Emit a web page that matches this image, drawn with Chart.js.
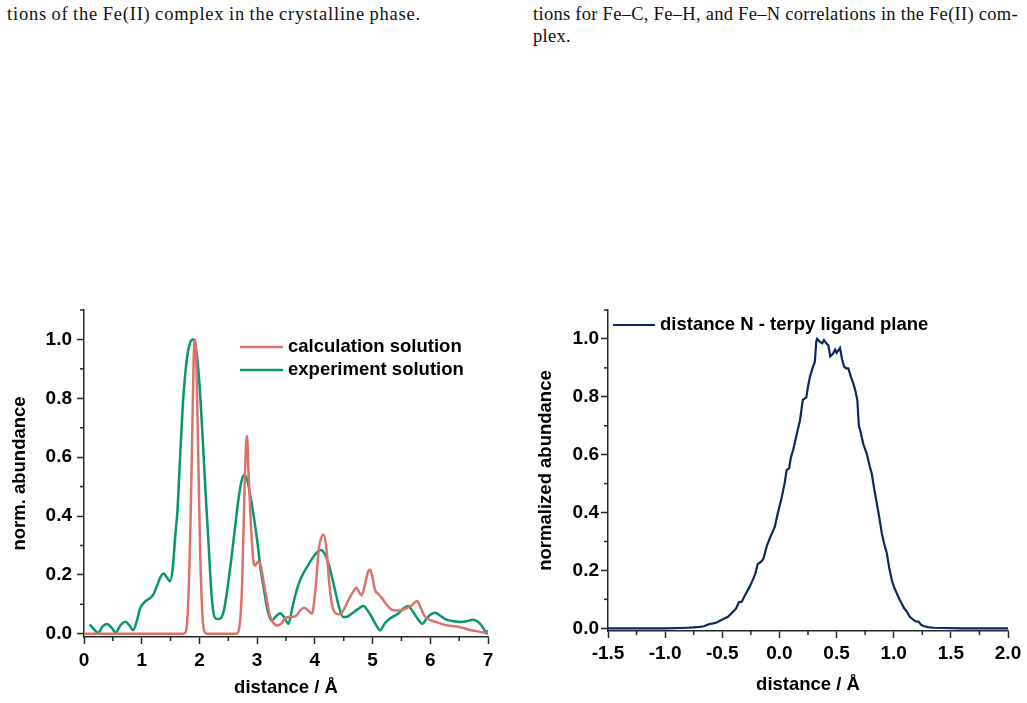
<!DOCTYPE html>
<html>
<head>
<meta charset="utf-8">
<title>Fe(II) complex distributions</title>
<script src="https://cdn.jsdelivr.net/npm/chart.js@4.4.1/dist/chart.umd.min.js"></script>
<style>
  body { margin: 0; background: #fff; width: 1027px; height: 703px; overflow: hidden; position: relative; }
  .cap { position: absolute; font-family: "Liberation Serif", "Times New Roman", serif; font-size: 18.5px;
         line-height: 22px; color: #111; letter-spacing: 0.3px; white-space: nowrap; }
  canvas { position: absolute; }
</style>
</head>
<body>
<div class="cap" style="left:7px;top:3px;letter-spacing:0.8px"><span data-fit="414">tions of the Fe(II) complex in the crystalline phase.</span></div>
<div class="cap" style="left:533px;top:3px"><span data-fit="485">tions for Fe–C, Fe–H, and Fe–N correlations in the Fe(II) com-</span></div>
<div class="cap" style="left:533px;top:25px"><span>plex.</span></div>

<canvas id="rdfChart" width="510" height="403" style="left:0;top:300px"></canvas>
<canvas id="planeChart" width="507" height="403" style="left:520px;top:300px"></canvas>

<script>
// left panel: calculated vs. experimental distance distribution
const calcDistance = [0, 1.72, 1.76, 1.80, 1.84, 1.87, 1.90, 1.925, 1.95, 1.98, 2.01, 2.05, 2.09, 2.13,
  2.64, 2.69, 2.74, 2.78, 2.81, 2.825, 2.85, 2.89, 2.94, 2.97, 3.01, 3.05, 3.10, 3.15, 3.21, 3.27,
  3.35, 3.42, 3.50, 3.60, 3.68, 3.75, 3.81, 3.88, 3.95, 4.01, 4.07, 4.12, 4.15, 4.20, 4.25, 4.30,
  4.36, 4.44, 4.52, 4.61, 4.67, 4.72, 4.77, 4.81, 4.86, 4.92, 4.955, 5.00, 5.04, 5.10, 5.16, 5.24,
  5.33, 5.42, 5.50, 5.60, 5.68, 5.77, 5.83, 5.90, 5.96, 6.10, 6.22, 6.34, 6.50, 6.60, 6.70, 6.80,
  6.90, 7.00];
const calcAbundance = [0, 0, 0.005, 0.08, 0.33, 0.62, 0.93, 1.0, 0.90, 0.60, 0.30, 0.07, 0.005, 0,
  0, 0.02, 0.17, 0.48, 0.65, 0.672, 0.55, 0.38, 0.24, 0.232, 0.245, 0.24, 0.19, 0.136, 0.07, 0.04,
  0.028, 0.035, 0.055, 0.057, 0.062, 0.08, 0.088, 0.08, 0.068, 0.15, 0.29, 0.33, 0.337, 0.29, 0.17, 0.095,
  0.07, 0.066, 0.09, 0.125, 0.145, 0.157, 0.14, 0.131, 0.16, 0.21, 0.218, 0.19, 0.15, 0.135, 0.122, 0.10,
  0.082, 0.079, 0.08, 0.088, 0.097, 0.111, 0.09, 0.06, 0.05, 0.04, 0.032, 0.027, 0.023, 0.018, 0.012, 0.009,
  0.005, 0.003];

const exptDistance = [0.10, 0.17, 0.245, 0.32, 0.40, 0.48, 0.55, 0.63, 0.715, 0.79, 0.85, 0.91, 0.97,
  1.05, 1.12, 1.19, 1.26, 1.33, 1.38, 1.44, 1.49, 1.54, 1.58, 1.62, 1.67, 1.72, 1.78, 1.84, 1.89,
  1.94, 2.00, 2.06, 2.115, 2.16, 2.20, 2.24, 2.28, 2.33, 2.38, 2.43, 2.49, 2.55, 2.61, 2.674, 2.73,
  2.777, 2.83, 2.89, 2.94, 3.007, 3.06, 3.12, 3.18, 3.25, 3.33, 3.40, 3.47, 3.543, 3.60, 3.66, 3.73,
  3.80, 3.89, 3.975, 4.10, 4.17, 4.235, 4.30, 4.35, 4.42, 4.49, 4.56, 4.64, 4.74, 4.84, 4.91, 4.985,
  5.06, 5.13, 5.21, 5.30, 5.37, 5.445, 5.53, 5.617, 5.69, 5.76, 5.866, 5.93, 5.99, 6.08, 6.18, 6.28,
  6.40, 6.54, 6.64, 6.74, 6.82, 6.885, 6.94, 6.98, 7.00];
const exptAbundance = [0.032, 0.016, 0.003, 0.024, 0.033, 0.020, 0.004, 0.028, 0.041, 0.028, 0.012, 0.04, 0.085,
  0.108, 0.118, 0.13, 0.16, 0.195, 0.205, 0.19, 0.178, 0.227, 0.33, 0.42, 0.62, 0.80, 0.93, 0.99, 1.0,
  0.97, 0.85, 0.65, 0.45, 0.30, 0.16, 0.075, 0.052, 0.05, 0.055, 0.085, 0.16, 0.25, 0.35, 0.454, 0.52,
  0.539, 0.52, 0.46, 0.40, 0.307, 0.22, 0.148, 0.08, 0.045, 0.06, 0.07, 0.055, 0.034, 0.08, 0.13, 0.175,
  0.205, 0.235, 0.262, 0.285, 0.272, 0.239, 0.19, 0.148, 0.09, 0.057, 0.058, 0.069, 0.083, 0.094, 0.08, 0.057,
  0.03, 0.012, 0.035, 0.052, 0.06, 0.069, 0.085, 0.094, 0.078, 0.057, 0.034, 0.05, 0.063, 0.071, 0.06, 0.048,
  0.043, 0.04, 0.043, 0.048, 0.042, 0.029, 0.012, 0.0, 0.012];

// right panel: N distance to the terpy ligand plane
const planeDistance = [-1.5, -1.2, -1.0, -0.87, -0.80, -0.755, -0.70, -0.66, -0.62, -0.58, -0.55, -0.52,
  -0.49, -0.45, -0.42, -0.38, -0.355, -0.33, -0.30, -0.26, -0.23, -0.21, -0.19, -0.16, -0.14, -0.11,
  -0.08, -0.04, -0.015, 0.015, 0.045, 0.063, 0.085, 0.10, 0.12, 0.15, 0.18, 0.205, 0.215, 0.235, 0.25,
  0.267, 0.29, 0.31, 0.322, 0.33, 0.355, 0.375, 0.39, 0.41, 0.428, 0.445, 0.465, 0.487, 0.50, 0.515,
  0.53, 0.548, 0.566, 0.585, 0.603, 0.625, 0.647, 0.665, 0.682, 0.695, 0.706, 0.735, 0.764, 0.79, 0.808,
  0.83, 0.852, 0.875, 0.896, 0.915, 0.94, 0.96, 0.983, 1.005, 1.027, 1.05, 1.07, 1.09, 1.115, 1.14,
  1.173, 1.195, 1.217, 1.24, 1.26, 1.30, 1.35, 1.45, 1.6, 2.0];
const planeAbundance = [0, 0, 0, 0.001, 0.002, 0.003, 0.005, 0.007, 0.014, 0.017, 0.02, 0.026,
  0.032, 0.04, 0.052, 0.068, 0.09, 0.092, 0.115, 0.144, 0.17, 0.19, 0.222, 0.23, 0.24, 0.285,
  0.315, 0.351, 0.397, 0.443, 0.50, 0.547, 0.553, 0.59, 0.616, 0.668, 0.719, 0.79, 0.792, 0.798, 0.835,
  0.869, 0.90, 0.921, 0.99, 1.0, 0.99, 0.985, 0.996, 0.985, 0.978, 0.94, 0.947, 0.963, 0.952, 0.96,
  0.969, 0.93, 0.904, 0.898, 0.898, 0.87, 0.846, 0.82, 0.788, 0.70, 0.685, 0.635, 0.604, 0.56, 0.535,
  0.48, 0.432, 0.38, 0.328, 0.295, 0.259, 0.21, 0.167, 0.14, 0.121, 0.10, 0.086, 0.07, 0.058, 0.04,
  0.029, 0.024, 0.023, 0.012, 0.008, 0.004, 0.002, 0.001, 0, 0];

const AXIS_COLOR = '#262626';
const CALC_COLOR = '#d9736b';
const EXPT_COLOR = '#07966f';
const PLANE_COLOR = '#0b2762';

// stretch the word gaps of a caption line so it fills its column (justified text)
document.querySelectorAll('[data-fit]').forEach(span => {
  const target = parseFloat(span.dataset.fit);
  const natural = span.getBoundingClientRect().width;
  const gaps = (span.textContent.match(/ /g) || []).length;
  if (gaps) span.style.wordSpacing = ((target - natural) / gaps) + 'px';
});

Chart.defaults.font.family = '"Liberation Sans", Arial, sans-serif';
Chart.defaults.font.weight = 'bold';
Chart.defaults.font.size = 18.5;
Chart.defaults.color = '#000';

function toPoints(xs, ys) {
  return xs.map((x, i) => ({ x: x, y: ys[i] }));
}

// short ticks between the labelled ones
const minorTicks = {
  id: 'minorTicks',
  afterDraw(chart, args, opts) {
    const ctx = chart.ctx;
    ctx.save();
    ctx.strokeStyle = AXIS_COLOR;
    ctx.lineWidth = 1.5;
    Object.values(chart.scales).forEach(scale => {
      const step = opts[scale.id];
      if (!step) return;
      const first = Math.ceil(scale.min / step - 1e-9);
      for (let k = first; k * step <= scale.max + 1e-9; k++) {
        const v = k * step;
        if (scale.ticks.some(t => Math.abs(t.value - v) < 1e-6)) continue;
        const p = scale.getPixelForValue(v);
        ctx.beginPath();
        if (scale.isHorizontal()) {
          ctx.moveTo(p, scale.top);
          ctx.lineTo(p, scale.top + opts.length);
        } else {
          ctx.moveTo(scale.right, p);
          ctx.lineTo(scale.right - opts.length, p);
        }
        ctx.stroke();
      }
    });
    ctx.restore();
  }
};

// legend drawn inside the plot, line sample + label
const lineLegend = {
  id: 'lineLegend',
  afterDraw(chart, args, opts) {
    const ctx = chart.ctx;
    ctx.save();
    ctx.font = 'bold 18.5px "Liberation Sans", Arial, sans-serif';
    ctx.textBaseline = 'middle';
    chart.data.datasets.forEach((ds, i) => {
      const y = opts.y + i * opts.rowGap;
      ctx.strokeStyle = ds.borderColor;
      ctx.lineWidth = ds.borderWidth;
      ctx.beginPath();
      ctx.moveTo(opts.x, y);
      ctx.lineTo(opts.x + opts.lineLength, y);
      ctx.stroke();
      ctx.fillStyle = '#000';
      ctx.fillText(ds.label, opts.x + opts.lineLength + 5, y);
    });
    ctx.restore();
  }
};

function axisCommon() {
  return {
    type: 'linear',
    border: { color: AXIS_COLOR, width: 1.5 },
    grid: { drawOnChartArea: false, tickLength: 7, tickWidth: 1.5, tickColor: AXIS_COLOR },
  };
}

function buildChart(canvasId, datasets, cfg) {
  const x = axisCommon();
  Object.assign(x, {
    min: cfg.xMin, max: cfg.xMax,
    afterFit: s => { s.height = cfg.xHeight; s.paddingLeft = 0; s.paddingRight = 0; },
    ticks: { stepSize: cfg.xStep, autoSkip: false, maxRotation: 0, padding: cfg.xTickPad,
             font: { size: 19 }, callback: cfg.xLabel },
    title: { display: true, text: 'distance / Å', padding: { top: 0, bottom: cfg.xTitlePad } },
  });
  const y = axisCommon();
  Object.assign(y, {
    min: cfg.yMin, max: 1.1,
    afterFit: s => { s.width = cfg.yWidth; s.paddingTop = 0; s.paddingBottom = 0; },
    ticks: { stepSize: 0.2, includeBounds: false, autoSkip: false, padding: cfg.yTickPad,
             font: { size: 19 }, callback: v => v.toFixed(1) },
    title: { display: true, text: cfg.yTitle, padding: { top: cfg.yTitlePad, bottom: 0 } },
  });

  return new Chart(document.getElementById(canvasId), {
    type: 'line',
    data: { datasets: datasets },
    options: {
      responsive: false,
      animation: false,
      layout: { padding: { left: 0, right: cfg.padRight, top: 10, bottom: 0 } },
      elements: { point: { radius: 0 } },
      scales: { x: x, y: y },
      plugins: {
        legend: { display: false },
        tooltip: { enabled: false },
        minorTicks: { x: cfg.xMinor, y: 0.1, length: 4 },
        lineLegend: cfg.legend,
      },
    },
    plugins: [minorTicks, lineLegend],
  });
}

buildChart('rdfChart', [
  {
    label: 'calculation solution',
    data: toPoints(calcDistance, calcAbundance),
    borderColor: CALC_COLOR,
    borderWidth: 2.5,
    cubicInterpolationMode: 'monotone',
    fill: false,
  },
  {
    label: 'experiment solution',
    data: toPoints(exptDistance, exptAbundance),
    borderColor: EXPT_COLOR,
    borderWidth: 2.5,
    cubicInterpolationMode: 'monotone',
    fill: false,
  },
], {
  xMin: 0, xMax: 7, xStep: 1, xMinor: 0.5,
  xLabel: v => String(v),
  yMin: -0.011, yTitle: 'norm. abundance',
  xHeight: 66, yWidth: 84, padRight: 22,
  xTickPad: 5, yTickPad: 5, xTitlePad: 4, yTitlePad: 9,
  legend: { x: 240, y: 47, rowGap: 23, lineLength: 43 },
});

buildChart('planeChart', [
  {
    label: 'distance N - terpy ligand plane',
    data: toPoints(planeDistance, planeAbundance),
    borderColor: PLANE_COLOR,
    borderWidth: 2.2,
    tension: 0,
    fill: false,
  },
], {
  xMin: -1.5, xMax: 2.0, xStep: 0.5, xMinor: 0.25,
  xLabel: v => v.toFixed(1),
  yMin: -0.0093, yTitle: 'normalized abundance',
  xHeight: 72, yWidth: 88, padRight: 19,
  xTickPad: 4, yTickPad: 2, xTitlePad: 7, yTitlePad: 14.5,
  legend: { x: 93, y: 25, rowGap: 23, lineLength: 42 },
});
</script>
</body>
</html>
